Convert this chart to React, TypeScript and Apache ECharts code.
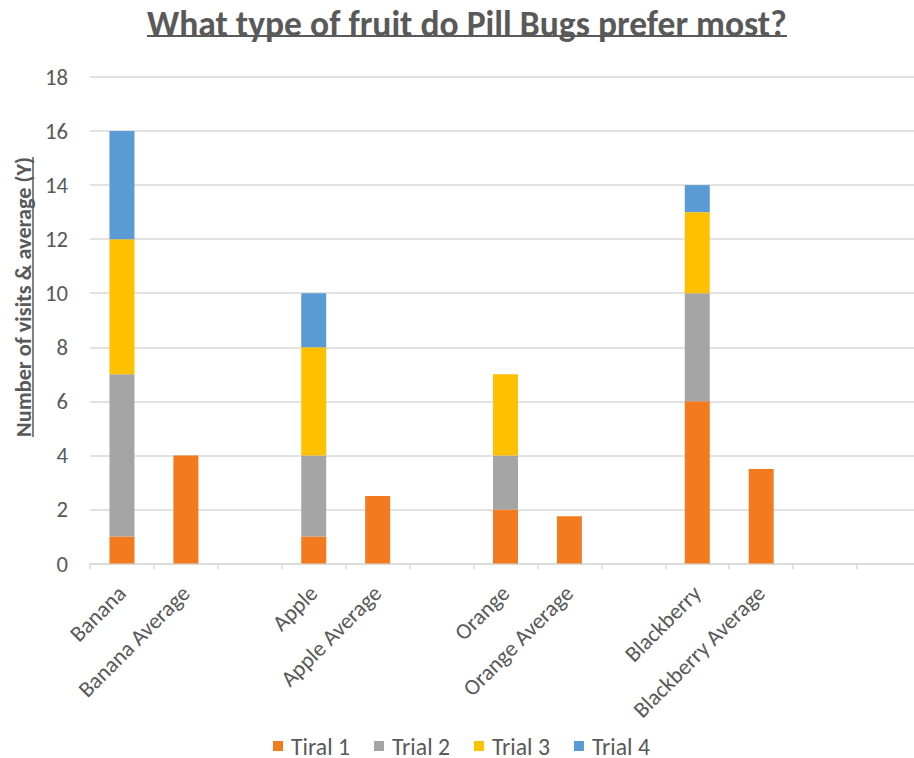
import React, { useEffect, useRef } from "react";
import * as echarts from "echarts";

const titleText = "What type of fruit do Pill Bugs prefer most?";
const yAxisTitle = "Number of visits & average (Y)";
const categories = [
  "Banana", "Banana Average", " ",
  "Apple", "Apple Average", "  ",
  "Orange", "Orange Average", "   ",
  "Blackberry", "Blackberry Average", "    ", "     ",
];
const seriesNames = ["Tiral 1", "Trial 2", "Trial 3", "Trial 4"];
const trial1 = [1, 4, null, 1, 2.5, null, 2, 1.75, null, 6, 3.5, null, null];
const trial2 = [6, null, null, 3, null, null, 2, null, null, 4, null, null, null];
const trial3 = [5, null, null, 4, null, null, 3, null, null, 3, null, null, null];
const trial4 = [4, null, null, 2, null, null, null, null, null, 1, null, null, null];
const colors = ["#F47A1F", "#A5A5A5", "#FFC000", "#5B9BD5"];
const yMin = 0;
const yMax = 18;
const yStep = 2;

const FONT = "Carlito, Lato, sans-serif";
const TEXT = "#595959";

function measure(text: string, font: string): number {
  const c = document.createElement("canvas").getContext("2d");
  if (!c) return 100;
  c.font = font;
  return c.measureText(text).width;
}

export default function App() {
  const ref = useRef<HTMLDivElement>(null);
  useEffect(() => {
    if (!ref.current) return;
    const chart = echarts.init(ref.current, undefined, { renderer: "svg" });

    const titleSize = (640 * 100) / measure(titleText, `bold 100px ${FONT}`);
    const yNameSize = (280 * 100) / measure(yAxisTitle, `bold 100px ${FONT}`);
    const smallSize = (56 * 100) / measure("Tiral 1", `100px ${FONT}`);
    const legendSize = (58 * 100) / measure("Trial 2", `100px ${FONT}`);
    const tickSize = (23 * 100) / measure("18", `100px ${FONT}`);

    const data = [trial1, trial2, trial3, trial4];

    chart.setOption({
      animation: false,
      title: {
        text: titleText,
        left: 147,
        top: 6,
        padding: 0,
        textStyle: { fontFamily: FONT, fontWeight: "bold", fontSize: titleSize, color: TEXT },
      },
      grid: { left: 90, right: -7, top: 77, bottom: 194.5, outerBoundsMode: "none" },
      legend: {
        data: seriesNames,
        left: 273,
        top: 734,
        padding: 0,
        itemWidth: 10,
        itemHeight: 10,
        itemGap: 24,
        icon: "rect",
        textStyle: {
          fontFamily: FONT,
          fontSize: legendSize,
          color: TEXT,
          padding: [0, 0, 0, 3],
        },
      },
      xAxis: {
        type: "category",
        data: categories,
        axisLine: { lineStyle: { color: "#d9d9d9", width: 1.5 } },
        axisTick: { show: true, length: 6, lineStyle: { color: "#d9d9d9", width: 1.5 } },
        axisLabel: {
          interval: 0,
          rotate: 45,
          margin: 26,
          fontFamily: FONT,
          fontSize: smallSize,
          color: TEXT,
        },
      },
      yAxis: {
        type: "value",
        min: yMin,
        max: yMax,
        interval: yStep,
        axisLine: { show: false },
        axisTick: { show: false },
        splitLine: { lineStyle: { color: "#d9d9d9", width: 1.5 } },
        axisLabel: { margin: 22, fontFamily: FONT, fontSize: tickSize, color: TEXT },
      },
      series: data.map((d, i) => ({
        name: seriesNames[i],
        type: "bar",
        stack: "visits",
        barWidth: 25,
        data: d,
        itemStyle: { color: colors[i] },
      })),
      graphic: [
        {
          type: "line",
          shape: { x1: 147, y1: 36, x2: 787, y2: 36 },
          style: { stroke: TEXT, lineWidth: 2 },
          silent: true,
        },
        {
          type: "text",
          x: 23,
          y: 297,
          rotation: Math.PI / 2,
          style: {
            text: yAxisTitle,
            fill: TEXT,
            fontFamily: FONT,
            fontWeight: "bold",
            fontSize: yNameSize,
            textAlign: "center",
            textVerticalAlign: "middle",
          },
        },
        {
          type: "line",
          shape: { x1: 33, y1: 157, x2: 33, y2: 437 },
          style: { stroke: TEXT, lineWidth: 1.5 },
          silent: true,
        },
      ],
    });
    return () => chart.dispose();
  }, []);
  return (
    <div
      ref={ref}
      style={{ position: "absolute", left: 0, top: 0, width: 914, height: 758, background: "#fff" }}
    />
  );
}
